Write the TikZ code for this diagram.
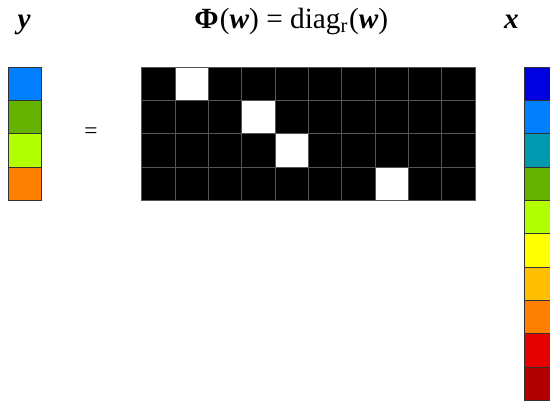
\documentclass[tikz,border=0pt]{standalone}
\usepackage{fontspec}
\setmainfont{Liberation Serif}
\usetikzlibrary{positioning}
\definecolor{CellEdge}{RGB}{50, 50, 50}
\definecolor{GridGray}{RGB}{85, 85, 85}
\definecolor{VBlue}{RGB}{0, 0, 224}
\definecolor{VSky}{RGB}{0, 128, 255}
\definecolor{VTeal}{RGB}{0, 153, 176}
\definecolor{VGreen}{RGB}{102, 178, 0}
\definecolor{VLime}{RGB}{178, 255, 0}
\definecolor{VYellow}{RGB}{255, 255, 0}
\definecolor{VAmber}{RGB}{255, 191, 0}
\definecolor{VOrange}{RGB}{255, 128, 0}
\definecolor{VRed}{RGB}{230, 0, 0}
\definecolor{VDark}{RGB}{178, 0, 0}
\newcommand{\bvec}[1]{{\bfseries\itshape #1}}
\tikzset{
  cell/.style={rectangle, draw=CellEdge, fill=#1, line width=0.6pt,
               minimum size=1cm, inner sep=0pt},
  mcell/.style={rectangle, draw=GridGray, fill=#1, line width=0.4pt,
                minimum size=1cm, inner sep=0pt},
  lbl/.style={font=\fontsize{25}{30}\selectfont, anchor=base},
}
\begin{document}
\begin{tikzpicture}
  \useasboundingbox (0,0) rectangle (16.5,-12.06);

  % output vector y
  \foreach \c [count=\i from 0] in {VSky, VGreen, VLime, VOrange}
    \node[cell=\c] (y\i) at (0.755,-2.51-\i) {};

  % selection matrix
  \foreach \r in {0,...,3}
    \foreach \k in {0,...,9}
      \node[mcell=black] (m\r-\k) at (4.75+\k,-2.51-\r) {};
  \foreach \r/\k in {0/1, 1/3, 2/4, 3/7}
    \node[mcell=white] (w\r) at (m\r-\k) {};

  % input vector x
  \foreach \c [count=\i from 0] in {VBlue, VSky, VTeal, VGreen, VLime,
                                    VYellow, VAmber, VOrange, VRed, VDark}
    \node[cell=\c] (x\i) at (16.23,-2.51-\i) {};

  % labels
  \node[lbl] (ylab) at (0.72,-0.84) {\bvec{y}};
  \node[lbl] (phi) at (8.74,-0.84)
       {{\bfseries Φ}\kern1pt(\bvec{w}) = diag\textsubscript{r}\kern1pt(\bvec{w})};
  \node[lbl] (xlab) at (15.34,-0.84) {\bvec{x}};
  \node[font=\fontsize{20}{24}\selectfont] (eq) at (2.73,-3.98) {=};
\end{tikzpicture}
\end{document}
